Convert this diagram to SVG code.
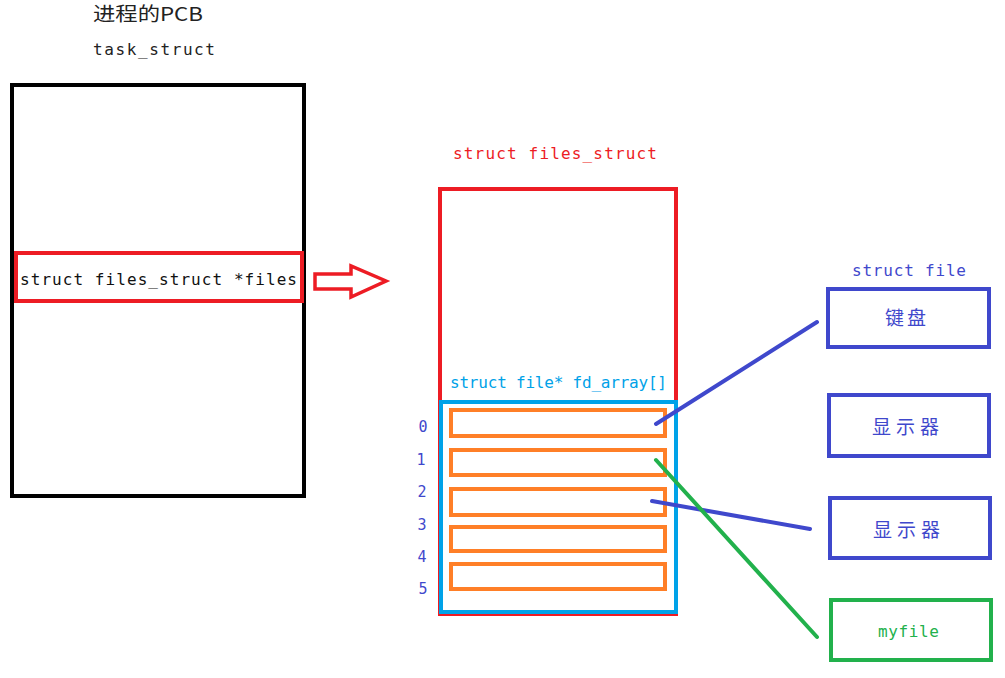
<svg xmlns="http://www.w3.org/2000/svg" width="1005" height="678" viewBox="0 0 1005 678">
<style>
.t{font-family:"DejaVu Sans Mono","Liberation Mono","Noto Sans CJK SC",monospace;font-size:16px}
.c{font-family:"Noto Sans CJK SC","DejaVu Sans",sans-serif;font-size:19px;text-anchor:middle}
.box{fill:none;stroke-width:4}
.ln{fill:none;stroke-width:4;stroke-linecap:round}
</style>
<rect width="1005" height="678" fill="#ffffff"/>
<g id="titles">
<text x="93" y="21" fill="#222" style="font-family:'Noto Sans CJK SC',sans-serif;font-size:19px" textLength="110" lengthAdjust="spacingAndGlyphs">进程的PCB</text>
<text x="93" y="55" class="t" fill="#222" textLength="122" lengthAdjust="spacing">task_struct</text>
</g>
<g id="task_struct">
<rect x="12" y="85" width="292" height="411" class="box" stroke="#000"/>
<rect x="16" y="253" width="286" height="48" class="box" stroke="#ed1c24" style="fill:#fff"/>
<text x="20" y="285" class="t" fill="#111" textLength="277" lengthAdjust="spacing">struct files_struct *files</text>
</g>
<g id="hollow_arrow">
<polygon points="315,274 351,274 351,266 386,281 351,297 351,289 315,289" fill="#fff" stroke="#ed1c24" stroke-width="3.5" stroke-linejoin="miter"/>
</g>
<g id="files_struct">
<text x="453" y="159" class="t" fill="#ed1c24" textLength="204" lengthAdjust="spacing">struct files_struct</text>
<rect x="440" y="189" width="236" height="425" class="box" stroke="#ed1c24"/>
<text x="450" y="388" class="t" fill="#00a2e8" textLength="217" lengthAdjust="spacing">struct file* fd_array[]</text>
<rect x="441" y="402" width="235" height="210" class="box" stroke="#00a2e8"/>
</g>
<g id="fd_array">
<rect x="451" y="410" width="214" height="26" class="box" stroke="#ff7f27"/>
<rect x="451" y="450" width="214" height="25" class="box" stroke="#ff7f27"/>
<rect x="451" y="489" width="214" height="26" class="box" stroke="#ff7f27"/>
<rect x="451" y="527" width="214" height="24" class="box" stroke="#ff7f27"/>
<rect x="451" y="564" width="214" height="25" class="box" stroke="#ff7f27"/>
<g class="t" fill="#3f48cc" text-anchor="middle" style="font-size:15px">
<text x="423" y="432">0</text>
<text x="421" y="465">1</text>
<text x="422" y="497">2</text>
<text x="422" y="530">3</text>
<text x="422" y="562">4</text>
<text x="423" y="594">5</text>
</g>
</g>
<g id="files">
<text x="852" y="276" class="t" fill="#3f48cc" textLength="114" lengthAdjust="spacing">struct file</text>
<g id="keyboard">
<rect x="828" y="289" width="161" height="58" class="box" stroke="#3f48cc"/>
<text x="907" y="325" class="c" fill="#3f48cc" letter-spacing="3">键盘</text>
</g>
<g id="display1">
<rect x="829" y="395" width="160" height="61" class="box" stroke="#3f48cc"/>
<text x="908" y="434" class="c" fill="#3f48cc" letter-spacing="5">显示器</text>
</g>
<g id="display2">
<rect x="830" y="498" width="160" height="60" class="box" stroke="#3f48cc"/>
<text x="909" y="537" class="c" fill="#3f48cc" letter-spacing="5">显示器</text>
</g>
<g id="myfile">
<rect x="831" y="600" width="160" height="60" class="box" stroke="#22b14c"/>
<text x="878" y="637" class="t" fill="#22b14c" textLength="61" lengthAdjust="spacing">myfile</text>
</g>
</g>
<g id="connectors">
<line x1="656" y1="424" x2="817" y2="322" class="ln" stroke="#3f48cc"/>
<line x1="652" y1="501" x2="810" y2="529" class="ln" stroke="#3f48cc"/>
<line x1="656" y1="460" x2="817" y2="637" class="ln" stroke="#22b14c"/>
</g>
</svg>
